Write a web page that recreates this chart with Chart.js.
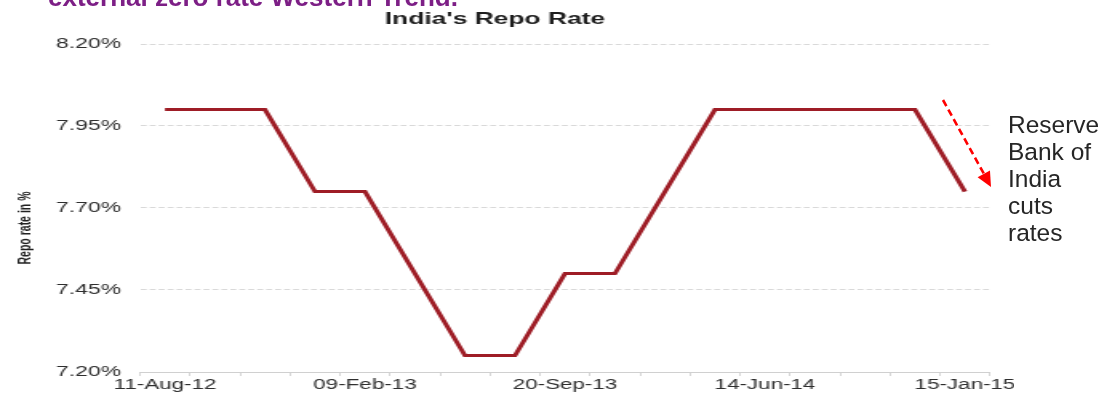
<!DOCTYPE html>
<html>
<head>
<meta charset="utf-8">
<title>India's Repo Rate</title>
<script src="https://cdn.jsdelivr.net/npm/chart.js@4.4.1/dist/chart.umd.min.js"></script>
<style>
  html, body { margin: 0; padding: 0; background: #fff; }
  #page {
    position: relative; width: 1104px; height: 398px; overflow: hidden;
    background: #fff; font-family: "Liberation Sans", Arial, sans-serif;
  }
  /* the chart is drawn narrow and stretched sideways */
  #plot {
    position: absolute; left: 0; top: 0; width: 634px; height: 398px;
    transform: scaleX(1.6); transform-origin: 0 0;
  }
  #plot canvas { display: block; width: 634px; height: 398px; }
  #headline {
    position: absolute; left: 48px; top: -18px; white-space: nowrap;
    font-size: 26px; line-height: 30px; font-weight: bold; color: #7d1f86;
  }
  #note {
    position: absolute; left: 1008px; top: 111px;
    font-size: 24.5px; line-height: 27px; color: #262626;
  }
  #arrow { position: absolute; left: 0; top: 0; }
</style>
</head>
<body>
<div id="page">
  <div id="plot"><canvas id="repo" width="634" height="398"></canvas></div>
  <div id="headline">external zero rate Western Trend.</div>
  <svg id="arrow" width="1104" height="398">
    <line x1="943" y1="100" x2="984" y2="174" stroke="#ff0000" stroke-width="2.6" stroke-dasharray="7 4"/>
    <polygon points="991,187 990,170.5 977.6,177.3" fill="#ff0000"/>
  </svg>
  <div id="note">Reserve<br>Bank of<br>India<br>cuts<br>rates</div>
</div>

<script>
// Repo rate, one reading per period (%)
const repoRate = [8.00, 8.00, 8.00, 7.75, 7.75, 7.50, 7.25, 7.25, 7.50,
                  7.50, 7.75, 8.00, 8.00, 8.00, 8.00, 8.00, 7.75];
// Dates printed under the axis, one every fourth period
const tickLabels = ['11-Aug-12', '09-Feb-13', '20-Sep-13', '14-Jun-14', '15-Jan-15'];
const labelEvery = 4;
// Value axis ticks
const yTicks = [7.20, 7.45, 7.70, 7.95, 8.20];
const chartTitle = "India's Repo Rate";
const yAxisTitle = 'Repo rate in %';

const categories = repoRate.map((_, i) =>
  i % labelEvery === 0 ? tickLabels[i / labelEvery] : '');

const FONT = '"Liberation Sans", Arial, sans-serif';

// rotated caption beside the value axis
const sideCaption = {
  id: 'sideCaption',
  afterDraw(chart) {
    const ctx = chart.ctx;
    ctx.save();
    ctx.font = 'bold 10.5px ' + FONT;
    ctx.fillStyle = '#222';
    ctx.textAlign = 'center';
    ctx.textBaseline = 'alphabetic';
    ctx.translate(19.4, 228);
    ctx.rotate(-Math.PI / 2);
    ctx.fillText(yAxisTitle, 0, 0);
    ctx.restore();
  }
};

new Chart(document.getElementById('repo'), {
  type: 'line',
  data: {
    labels: categories,
    datasets: [{
      data: repoRate,
      borderColor: '#9e1d26',
      borderWidth: 3,
      tension: 0,
      pointRadius: 0,
      pointHoverRadius: 0,
      borderJoinStyle: 'miter',
      fill: false
    }]
  },
  options: {
    responsive: false,
    devicePixelRatio: 1,
    animation: false,
    layout: { padding: { left: 0, right: 15.25, top: 0, bottom: 0 } },
    plugins: {
      legend: { display: false },
      tooltip: { enabled: false },
      title: {
        display: true,
        text: chartTitle,
        color: '#1e1e1e',
        font: { family: FONT, size: 16.5, weight: 'bold' },
        padding: { top: 9.5, bottom: 14.7 }
      }
    },
    scales: {
      x: {
        type: 'category',
        offset: true,
        grid: {
          offset: true,
          drawOnChartArea: false,
          drawTicks: true,
          tickLength: 4,
          color: '#d6d6d6'
        },
        border: { display: true, color: '#d0d0d0', width: 1 },
        ticks: {
          autoSkip: false,
          maxRotation: 0,
          padding: 0.5,
          color: '#2e2e2e',
          font: { family: FONT, size: 14 }
        },
        afterFit(scale) {
          scale.height = 26;
          scale.paddingLeft = 0;
          scale.paddingRight = 0;
        }
      },
      y: {
        min: yTicks[0],
        max: yTicks[yTicks.length - 1],
        afterBuildTicks(scale) {
          scale.ticks = yTicks.map(v => ({ value: v }));
        },
        grid: {
          drawTicks: false,
          color: '#d9d9d9',
          lineWidth: 1
        },
        border: { display: false, dash: [3.7, 1.9] },
        ticks: {
          padding: 11.9,
          color: '#2e2e2e',
          font: { family: FONT, size: 14.3 },
          callback: v => v.toFixed(2) + '%'
        },
        afterFit(scale) {
          scale.width = 87.5;
          scale.paddingTop = 0;
          scale.paddingBottom = 0;
        }
      }
    }
  },
  plugins: [sideCaption]
});
</script>
</body>
</html>
